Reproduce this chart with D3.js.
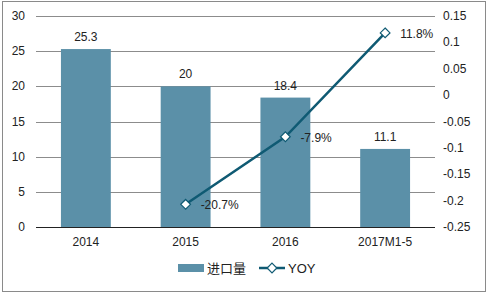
<!DOCTYPE html>
<html>
<head>
<meta charset="utf-8">
<script src="https://cdn.jsdelivr.net/npm/d3@7"></script>
<style>
body { margin: 0; background: #fff; }
text { font-family: "Liberation Sans", Arial, sans-serif; font-size: 12px; fill: #222; }
</style>
</head>
<body>
<script>
const categories = ["2014", "2015", "2016", "2017M1-5"];
const importValues = [25.3, 20, 18.4, 11.1];
const yoyValues = [null, -0.207, -0.079, 0.118];
const yoyLabels = ["", "-20.7%", "-7.9%", "11.8%"];
const leftTicks = [0, 5, 10, 15, 20, 25, 30];
const rightTicks = [-0.25, -0.2, -0.15, -0.1, -0.05, 0, 0.05, 0.1, 0.15];

const W = 488, H = 294;
const plot = { left: 36, right: 435, top: 16, bottom: 227 };
const barColor = "#5b90a8";
const lineColor = "#0f5a73";

const svg = d3.select("body").append("svg")
    .attr("width", W)
    .attr("height", H);

// outer frame
svg.append("rect")
    .attr("x", 2.5).attr("y", 1.5)
    .attr("width", W - 5).attr("height", H - 4)
    .attr("fill", "none")
    .attr("stroke", "#8a8a8a");

const x = d3.scaleBand()
    .domain(categories)
    .range([plot.left, plot.right])
    .paddingInner(0.5)
    .paddingOuter(0.25);

const yLeft = d3.scaleLinear().domain([0, 30]).range([plot.bottom, plot.top]);
const yRight = d3.scaleLinear().domain([-0.25, 0.15]).range([plot.bottom, plot.top]);

// gridlines
svg.append("g")
    .selectAll("line")
    .data(leftTicks.filter(d => d > 0))
    .enter()
    .append("line")
    .attr("x1", plot.left).attr("x2", plot.right)
    .attr("y1", d => Math.round(yLeft(d)) + 0.5)
    .attr("y2", d => Math.round(yLeft(d)) + 0.5)
    .attr("stroke", "#8c8c8c");

// left axis labels
svg.append("g")
    .selectAll("text")
    .data(leftTicks)
    .enter()
    .append("text")
    .attr("x", 25)
    .attr("y", d => yLeft(d) + 4)
    .attr("text-anchor", "end")
    .text(d => d);

// right axis labels
svg.append("g")
    .selectAll("text")
    .data(rightTicks)
    .enter()
    .append("text")
    .attr("x", 443)
    .attr("y", d => yRight(d) + 4)
    .text(d => d);

// bars
svg.append("g")
    .selectAll("rect")
    .data(importValues)
    .enter()
    .append("rect")
    .attr("x", (d, i) => x(categories[i]))
    .attr("y", d => yLeft(d))
    .attr("width", x.bandwidth())
    .attr("height", d => yLeft(0) - yLeft(d))
    .attr("fill", barColor);

// bar value labels
svg.append("g")
    .selectAll("text")
    .data(importValues)
    .enter()
    .append("text")
    .attr("x", (d, i) => x(categories[i]) + x.bandwidth() / 2)
    .attr("y", d => yLeft(d) - 8)
    .attr("text-anchor", "middle")
    .text(d => d);

// baseline
svg.append("line")
    .attr("x1", plot.left).attr("x2", plot.right)
    .attr("y1", plot.bottom + 0.5).attr("y2", plot.bottom + 0.5)
    .attr("stroke", "#222");

// category labels
svg.append("g")
    .selectAll("text")
    .data(categories)
    .enter()
    .append("text")
    .attr("x", d => x(d) + x.bandwidth() / 2)
    .attr("y", 246)
    .attr("text-anchor", "middle")
    .text(d => d);

// YOY line
const yoyPoints = yoyValues
    .map((v, i) => ({ v: v, c: categories[i], label: yoyLabels[i] }))
    .filter(d => d.v !== null);

const line = d3.line()
    .x(d => x(d.c) + x.bandwidth() / 2)
    .y(d => yRight(d.v));

svg.append("path")
    .datum(yoyPoints)
    .attr("d", line)
    .attr("fill", "none")
    .attr("stroke", lineColor)
    .attr("stroke-width", 2.5);

const diamond = d3.symbol().type(d3.symbolDiamond2).size(60);
svg.append("g")
    .selectAll("path")
    .data(yoyPoints)
    .enter()
    .append("path")
    .attr("d", diamond)
    .attr("transform", d => `translate(${x(d.c) + x.bandwidth() / 2},${yRight(d.v)})`)
    .attr("fill", "#fff")
    .attr("stroke", lineColor)
    .attr("stroke-width", 1.2);

svg.append("g")
    .selectAll("text")
    .data(yoyPoints)
    .enter()
    .append("text")
    .attr("x", d => x(d.c) + x.bandwidth() / 2 + 15)
    .attr("y", d => yRight(d.v) + 5)
    .text(d => d.label);

// legend
const legend = svg.append("g");
legend.append("rect")
    .attr("x", 178).attr("y", 264)
    .attr("width", 26).attr("height", 8)
    .attr("fill", barColor);
legend.append("text")
    .attr("x", 207).attr("y", 273)
    .style("font-family", "'Noto Sans CJK SC', sans-serif")
    .style("font-size", "13px")
    .text("进口量");
legend.append("line")
    .attr("x1", 259).attr("x2", 285)
    .attr("y1", 268).attr("y2", 268)
    .attr("stroke", lineColor)
    .attr("stroke-width", 2.5);
legend.append("path")
    .attr("d", diamond)
    .attr("transform", "translate(272,268)")
    .attr("fill", "#fff")
    .attr("stroke", lineColor)
    .attr("stroke-width", 1.2);
legend.append("text")
    .attr("x", 288).attr("y", 273)
    .style("font-size", "13px")
    .text("YOY");
</script>
</body>
</html>
